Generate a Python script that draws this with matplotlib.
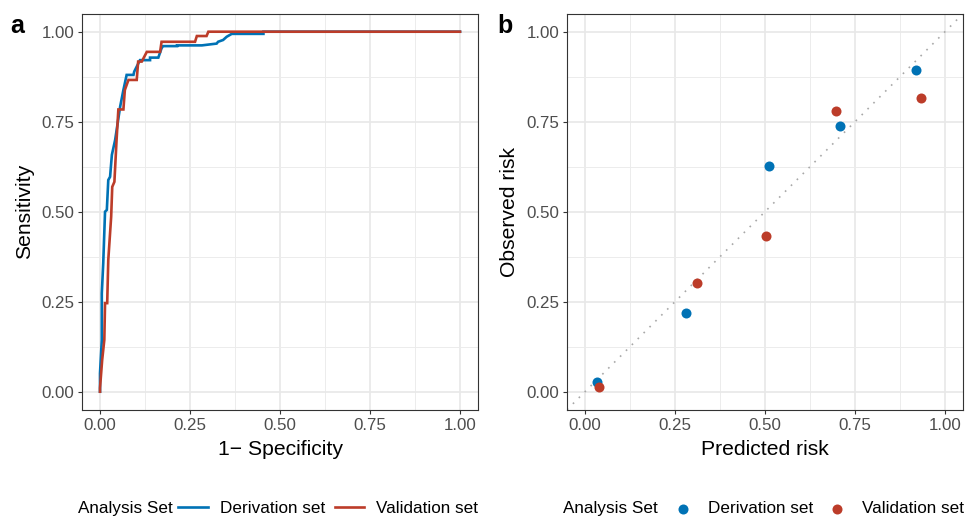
import numpy as np
import matplotlib
matplotlib.use('Agg')
import matplotlib.pyplot as plt

plt.rcParams['font.family'] = ['Liberation Sans', 'DejaVu Sans']

"""data read off the reference"""
# ROC curves (1-specificity, sensitivity)
deriv_fpr = [0.0, 0.0, 0.0, 0.005, 0.005, 0.009, 0.014, 0.019, 0.023, 0.028, 0.033, 0.042,
             0.056, 0.065, 0.074, 0.093, 0.095, 0.111, 0.139, 0.139, 0.162, 0.171, 0.175,
             0.214, 0.214, 0.283, 0.324, 0.328, 0.342, 0.352, 0.366, 0.454, 0.454, 1.0]
deriv_tpr = [0.0, 0.010, 0.051, 0.144, 0.273, 0.357, 0.500, 0.505, 0.588, 0.597, 0.658, 0.699,
             0.792, 0.838, 0.880, 0.880, 0.889, 0.921, 0.921, 0.928, 0.928, 0.954, 0.960,
             0.960, 0.962, 0.962, 0.967, 0.972, 0.977, 0.986, 0.994, 0.994, 1.0, 1.0]
valid_fpr = [0.0, 0.0, 0.006, 0.012, 0.014, 0.020, 0.023, 0.031, 0.034, 0.040, 0.046, 0.051,
             0.065, 0.069, 0.079, 0.102, 0.106, 0.116, 0.130, 0.167, 0.171, 0.264, 0.269,
             0.296, 0.301, 1.0]
valid_tpr = [0.0, 0.010, 0.088, 0.144, 0.246, 0.246, 0.366, 0.486, 0.569, 0.583, 0.699, 0.784,
             0.784, 0.838, 0.866, 0.866, 0.917, 0.917, 0.944, 0.944, 0.972, 0.972, 0.988,
             0.988, 1.0, 1.0]

# calibration (predicted, observed)
deriv_pred = [0.034, 0.280, 0.512, 0.709, 0.919]
deriv_obs = [0.026, 0.220, 0.627, 0.738, 0.894]
valid_pred = [0.040, 0.312, 0.503, 0.697, 0.932]
valid_obs = [0.013, 0.303, 0.432, 0.780, 0.815]

ticks = [0.0, 0.25, 0.5, 0.75, 1.0]
tick_labels = ['0.00', '0.25', '0.50', '0.75', '1.00']
set_labels = ['Derivation set', 'Validation set']

blue = '#0072B5'
red = '#BC3C29'

W, H = 969, 516
fig = plt.figure(figsize=(W / 100, H / 100), dpi=100)

def px_axes(x0, y0, x1, y1):
    return fig.add_axes([x0 / W, 1 - y1 / H, (x1 - x0) / W, (y1 - y0) / H])

def style(ax):
    ax.set_xlim(-0.05, 1.05)
    ax.set_ylim(-0.05, 1.05)
    ax.set_xticks(ticks)
    ax.set_yticks(ticks)
    ax.set_xticklabels(tick_labels)
    ax.set_yticklabels(tick_labels)
    ax.set_xticks([0.125, 0.375, 0.625, 0.875], minor=True)
    ax.set_yticks([0.125, 0.375, 0.625, 0.875], minor=True)
    ax.grid(which='major', color='#E8E8E8', lw=1.25)
    ax.grid(which='minor', color='#EBEBEB', lw=0.65)
    ax.set_axisbelow(True)
    ax.tick_params(which='major', length=3.2, width=0.8, color='#333333',
                   labelsize=12.2, labelcolor='#4D4D4D', pad=2.5)
    ax.tick_params(which='minor', length=0)
    for s in ax.spines.values():
        s.set_color('#333333')
        s.set_linewidth(0.8)

# panel a: ROC
ax1 = px_axes(82, 13.7, 478, 409.7)
style(ax1)
ax1.plot(deriv_fpr, deriv_tpr, color=blue, lw=1.9, label=set_labels[0], solid_joinstyle='miter')
ax1.plot(valid_fpr, valid_tpr, color=red, lw=1.9, label=set_labels[1], solid_joinstyle='miter')
ax1.set_xlabel('1\u2212 Specificity', fontsize=15.2, labelpad=5)
ax1.set_ylabel('Sensitivity', fontsize=15.2, labelpad=5)

# panel b: calibration
ax2 = px_axes(567, 13.7, 963, 409.7)
style(ax2)
ax2.axline((0, 0), (1, 1), color='#A8A8A8', lw=1.2, linestyle=(0, (1, 4)))
ax2.scatter(deriv_pred, deriv_obs, s=52, color=blue, label=set_labels[0], zorder=3, linewidths=0)
ax2.scatter(valid_pred, valid_obs, s=52, color=red, label=set_labels[1], zorder=3, linewidths=0)
ax2.set_xlabel('Predicted risk', fontsize=15.2, labelpad=5)
ax2.set_ylabel('Observed risk', fontsize=15.2, labelpad=5)

# panel letters
fig.text(10 / W, 1 - 26 / H, 'a', fontsize=18, fontweight='bold', va='center')
fig.text(497 / W, 1 - 26 / H, 'b', fontsize=18, fontweight='bold', va='center')

# legends
leg_y = 1 - 508 / H
fig.text(78 / W, leg_y, 'Analysis Set', fontsize=12.3, va='center')
fig.text(563 / W, leg_y, 'Analysis Set', fontsize=12.3, va='center')
h1, l1 = ax1.get_legend_handles_labels()
fig.legend(h1, l1, loc='center left', bbox_to_anchor=(178 / W, leg_y - 0.7 / H), ncol=2,
           frameon=False, fontsize=12.3, handlelength=1.75, handletextpad=0.7,
           columnspacing=0.55, borderpad=0, borderaxespad=0)
h2, l2 = ax2.get_legend_handles_labels()
fig.legend(h2, l2, loc='center left', bbox_to_anchor=(667 / W, leg_y - 0.7 / H), ncol=2,
           frameon=False, fontsize=12.3, handlelength=1.9, handletextpad=0.5,
           columnspacing=0.45, borderpad=0, borderaxespad=0)

fig.savefig('out.png', dpi=100)
